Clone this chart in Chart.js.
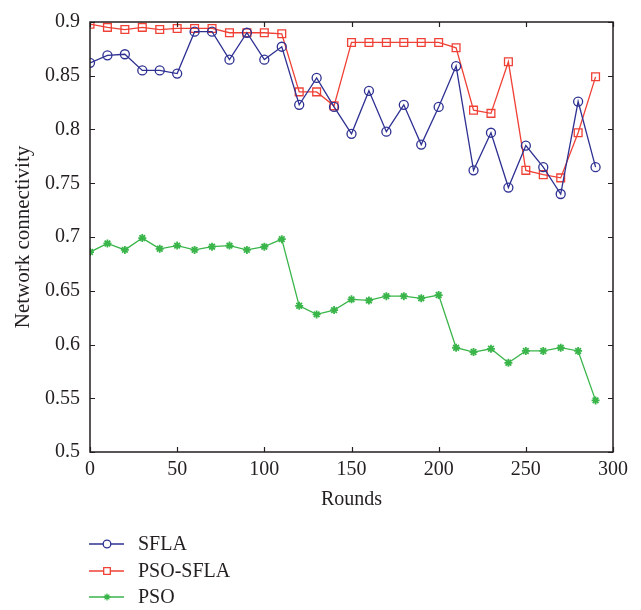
<!DOCTYPE html>
<html>
<head>
<meta charset="utf-8">
<script src="https://cdn.jsdelivr.net/npm/chart.js@4.4.1/dist/chart.umd.min.js"></script>
<style>
  html, body { margin: 0; padding: 0; background: #fff; }
  #wrap { width: 641px; height: 610px; }
</style>
</head>
<body>
<div id="wrap"><canvas id="netChart" width="641" height="610"></canvas></div>
<script>
// rounds on the x axis
const rounds = [0, 10, 20, 30, 40, 50, 60, 70, 80, 90, 100, 110, 120, 130, 140,
    150, 160, 170, 180, 190, 200, 210, 220, 230, 240, 250, 260, 270, 280, 290];

const sflaValues = [0.862, 0.869, 0.870, 0.855, 0.855, 0.852, 0.891, 0.891, 0.865, 0.890,
    0.865, 0.877, 0.823, 0.848, 0.821, 0.796, 0.836, 0.798, 0.823, 0.786,
    0.821, 0.859, 0.762, 0.797, 0.746, 0.785, 0.765, 0.740, 0.826, 0.765];

const psoSflaValues = [0.898, 0.895, 0.893, 0.895, 0.893, 0.894, 0.894, 0.894, 0.890, 0.890,
    0.890, 0.889, 0.835, 0.835, 0.822, 0.881, 0.881, 0.881, 0.881, 0.881,
    0.881, 0.876, 0.818, 0.815, 0.863, 0.762, 0.758, 0.755, 0.797, 0.849];

const psoValues = [0.686, 0.694, 0.688, 0.699, 0.689, 0.692, 0.688, 0.691, 0.692, 0.688,
    0.691, 0.698, 0.636, 0.628, 0.632, 0.642, 0.641, 0.645, 0.645, 0.643,
    0.646, 0.597, 0.593, 0.596, 0.583, 0.594, 0.594, 0.597, 0.594, 0.548];

const xTickValues = [0, 50, 100, 150, 200, 250, 300];
const yTickValues = [0.5, 0.55, 0.6, 0.65, 0.7, 0.75, 0.8, 0.85, 0.9];
const yTickLabels = ['0.5', '0.55', '0.6', '0.65', '0.7', '0.75', '0.8', '0.85', '0.9'];

const seriesNames = ['SFLA', 'PSO-SFLA', 'PSO'];

const FONT = "'Liberation Serif', 'DejaVu Serif', serif";
const INK = '#231f20';

function toPoints(values) {
    return rounds.map((r, i) => ({ x: r, y: values[i] }));
}

// box round the plot with inward ticks, like the matlab figure
const boxPlugin = {
    id: 'boxPlugin',
    afterDraw(chart) {
        const { ctx, chartArea: a, scales } = chart;
        ctx.save();
        ctx.strokeStyle = INK;
        ctx.lineWidth = 1.5;
        ctx.strokeRect(a.left, a.top, a.right - a.left, a.bottom - a.top);
        ctx.lineWidth = 1.2;
        const len = 5;
        ctx.beginPath();
        scales.x.ticks.forEach(t => {
            const px = Math.round(scales.x.getPixelForValue(t.value)) + 0.5;
            ctx.moveTo(px, a.bottom); ctx.lineTo(px, a.bottom - len);
            ctx.moveTo(px, a.top); ctx.lineTo(px, a.top + len);
        });
        scales.y.ticks.forEach(t => {
            const py = Math.round(scales.y.getPixelForValue(t.value)) + 0.5;
            ctx.moveTo(a.left, py); ctx.lineTo(a.left + len, py);
            ctx.moveTo(a.right, py); ctx.lineTo(a.right - len, py);
        });
        ctx.stroke();
        ctx.restore();
    }
};

// legend stacked under the axis
const legendPlugin = {
    id: 'stackLegend',
    afterDraw(chart) {
        const { ctx } = chart;
        const rows = [544, 571, 597];
        ctx.save();
        chart.data.datasets.forEach((ds, i) => {
            const y = rows[i];
            ctx.strokeStyle = ds.borderColor;
            ctx.lineWidth = 1.3;
            ctx.beginPath();
            ctx.moveTo(89, y); ctx.lineTo(124, y);
            ctx.stroke();
            ctx.fillStyle = ds.pointStyle === 'star' ? ds.borderColor : '#fff';
            Chart.helpers.drawPoint(ctx, {
                pointStyle: ds.pointStyle,
                radius: ds.pointRadius * 0.85,
                borderWidth: ds.pointBorderWidth
            }, 107, y);
            ctx.fillStyle = INK;
            ctx.font = '20px ' + FONT;
            ctx.textBaseline = 'middle';
            ctx.fillText(ds.label, 138, y + 1);
        });
        ctx.restore();
    }
};

const ctx = document.getElementById('netChart').getContext('2d');
const netChart = new Chart(ctx, {
    type: 'line',
    data: {
        datasets: [{
            label: seriesNames[0],
            data: toPoints(sflaValues),
            borderColor: '#2e3192',
            backgroundColor: 'rgba(0,0,0,0)',
            pointStyle: 'circle',
            pointRadius: 4.5,
            pointBorderWidth: 1.3,
            borderWidth: 1.3
        }, {
            label: seriesNames[1],
            data: toPoints(psoSflaValues),
            borderColor: '#ef4136',
            backgroundColor: 'rgba(0,0,0,0)',
            pointStyle: 'rect',
            pointRadius: 5.5,
            pointBorderWidth: 1.3,
            borderWidth: 1.3
        }, {
            label: seriesNames[2],
            data: toPoints(psoValues),
            borderColor: '#39b54a',
            backgroundColor: '#39b54a',
            pointStyle: 'star',
            pointRadius: 4,
            pointBorderWidth: 1.8,
            borderWidth: 1.3
        }]
    },
    options: {
        responsive: false,
        animation: false,
        layout: { padding: { top: 14, right: 28, left: 0, bottom: 88 } },
        plugins: {
            legend: { display: false },
            tooltip: { enabled: false }
        },
        elements: { line: { tension: 0 } },
        scales: {
            x: {
                type: 'linear',
                min: 0,
                max: 300,
                afterBuildTicks: s => { s.ticks = xTickValues.map(v => ({ value: v })); },
                afterFit: s => { s.height = 70; },
                grid: { display: false, drawTicks: false },
                border: { display: false },
                ticks: { color: INK, font: { family: FONT, size: 20 }, padding: 6, maxRotation: 0 },
                title: { display: true, text: 'Rounds', color: INK, font: { family: FONT, size: 20 }, padding: { top: 0, bottom: 10 } }
            },
            y: {
                type: 'linear',
                min: 0.5,
                max: 0.9,
                afterBuildTicks: s => { s.ticks = yTickValues.map(v => ({ value: v })); },
                afterFit: s => { s.width = 90; },
                grid: { display: false, drawTicks: false },
                border: { display: false },
                ticks: {
                    color: INK,
                    font: { family: FONT, size: 20 },
                    padding: 10,
                    callback: (v, i) => yTickLabels[i]
                },
                title: { display: true, text: 'Network connectivity', color: INK, font: { family: FONT, size: 21 }, padding: { top: 11, bottom: 0 } }
            }
        }
    },
    plugins: [boxPlugin, legendPlugin]
});
</script>
</body>
</html>
